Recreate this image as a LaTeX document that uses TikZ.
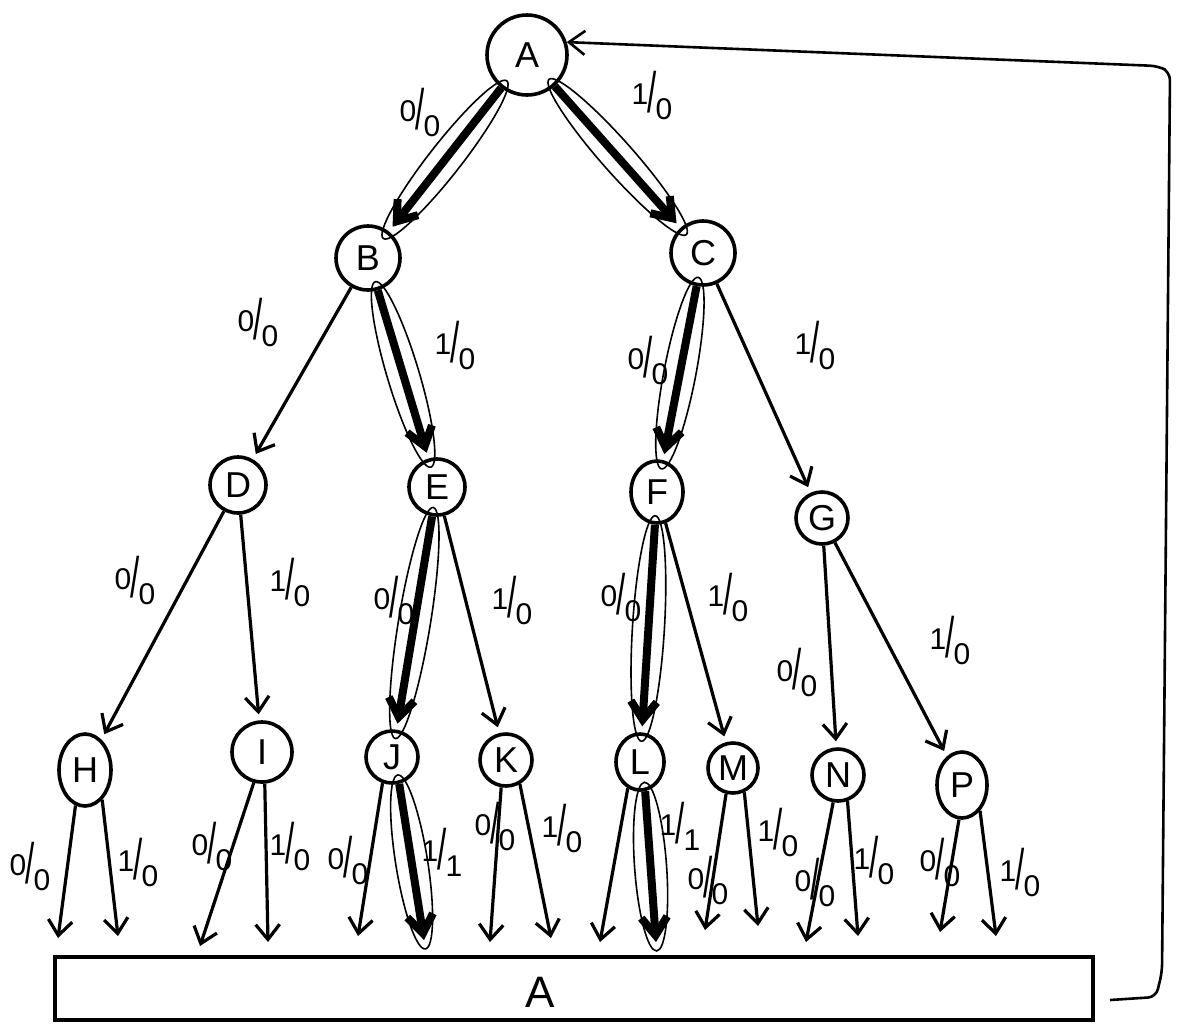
\documentclass[tikz,border=0pt]{standalone}
\usepackage{graphicx}
\usepackage{fontspec}
\setmainfont{Liberation Sans}
\usetikzlibrary{arrows.meta,shapes.geometric,calc}
\newcommand\fr[2]{\raisebox{8pt}{#1}\kern-1pt\scalebox{1.1}[1.9]{/}\kern-1pt\raisebox{-7pt}{#2}}
\newcommand\hlbox[2]{\path let \p1=($(#2)-(#1)$), \n1={atan2(\y1,\x1)}, \n2={veclen(\x1,\y1)} in node[hl, minimum width=\n2+18pt, rotate=\n1] at ($(#1)!0.5!(#2)$) {};}
\begin{document}
\begin{tikzpicture}[x=1pt,y=-1pt,
  nd/.style={draw, circle, line width=3.6pt, inner sep=0pt, font=\fontsize{36}{36}\selectfont},
  ndel/.style={draw, ellipse, line width=3.6pt, inner sep=0pt, font=\fontsize{36}{36}\selectfont},
  edge/.style={line width=3.2pt, -{Straight Barb[length=15pt,width=24pt]}, shorten >=6pt},
  hot/.style={line width=8pt, -{Straight Barb[length=18pt,width=26pt]}, shorten >=6pt},
  hl/.style={draw, ellipse, line width=1.6pt, minimum height=32pt, inner sep=0pt},
  lab/.style={font=\fontsize{30}{30}\selectfont, inner sep=0pt}]
\useasboundingbox (0,0) rectangle (1185,1026);

% nodes
\node[nd, minimum size=80pt] (A) at (527,55) {A};
\node[nd, minimum size=64pt] (B) at (368,258) {B};
\node[nd, minimum size=64pt] (C) at (703,253) {C};
\node[nd, minimum size=56pt] (D) at (238,485) {D};
\node[nd, minimum size=56pt] (E) at (437,487) {E};
\node[ndel, minimum width=52pt, minimum height=62pt] (F) at (657,492) {F};
\node[nd, minimum size=52pt] (G) at (822,518) {G};
\node[ndel, minimum width=52pt, minimum height=72pt] (H) at (85,770) {H};
\node[nd, minimum size=60pt] (I) at (262,752) {I};
\node[nd, minimum size=52pt] (J) at (392,757) {J};
\node[nd, minimum size=52pt] (K) at (506,760) {K};
\node[ndel, minimum width=48pt, minimum height=56pt] (L) at (640,762) {L};
\node[nd, minimum size=50pt] (M) at (733,768) {M};
\node[nd, minimum size=52pt] (N) at (838,775) {N};
\node[ndel, minimum width=50pt, minimum height=66pt] (P) at (962,785) {P};

% bottom box
\node[draw, line width=4pt, minimum width=1038pt, minimum height=63pt, inner sep=0pt] (box) at (574,988) {};
\node[font=\fontsize{44}{44}\selectfont, inner sep=0pt] (boxA) at (540,992) {A};

% highlighted path outlines
\hlbox{A.232}{B.52}
\hlbox{A.312}{C.132}
\hlbox{B.287}{E.107}
\hlbox{C.259}{F.79}
\hlbox{E.260}{J.80}
\hlbox{F.266}{L.86}

% tree edges
\draw[hot] (A) -- (B);
\draw[hot] (A) -- (C);
\draw[edge] (B) -- (D);
\draw[hot] (B) -- (E);
\draw[hot] (C) -- (F);
\draw[edge] (C) -- (G);
\draw[edge] (D) -- (H);
\draw[edge] (D) -- (I);
\draw[hot] (E) -- (J);
\draw[edge] (E) -- (K);
\draw[hot] (F) -- (L);
\draw[edge] (F) -- (M);
\draw[edge] (G) -- (N);
\draw[edge] (G) -- (P);

% edge labels
\node[lab] (lAB) at (420,112) {\fr00};
\node[lab] (lAC) at (652,95) {\fr10};
\node[lab] (lBD) at (258,322) {\fr00};
\node[lab] (lBE) at (455,345) {\fr10};
\node[lab] (lCF) at (648,360) {\fr00};
\node[lab] (lCG) at (815,345) {\fr10};
\node[lab] (lDH) at (135,580) {\fr00};
\node[lab] (lDI) at (290,582) {\fr10};
\node[lab] (lEJ) at (394,600) {\fr00};
\node[lab] (lEK) at (512,600) {\fr10};
\node[lab] (lFL) at (621,597) {\fr00};
\node[lab] (lFM) at (728,597) {\fr10};
\node[lab] (lGN) at (797,672) {\fr00};
\node[lab] (lGP) at (950,640) {\fr10};

% bottom arrows
\coordinate (h1) at (58,938);  \coordinate (h2) at (118,936);
\coordinate (i1) at (200,946); \coordinate (i2) at (268,942);
\coordinate (j1) at (358,936); \coordinate (j2) at (424,940);
\coordinate (k1) at (490,942); \coordinate (k2) at (551,938);
\coordinate (l1) at (600,942); \coordinate (l2) at (656,942);
\coordinate (m1) at (705,930); \coordinate (m2) at (758,926);
\coordinate (n1) at (806,942); \coordinate (n2) at (858,936);
\coordinate (p1) at (940,932); \coordinate (p2) at (996,936);
\draw[edge, shorten >=0pt] (H.255) -- (h1);
\draw[edge, shorten >=0pt] (H.300) -- (h2);
\draw[edge, shorten >=0pt] (I.255) -- (i1);
\draw[edge, shorten >=0pt] (I.275) -- (i2);
\draw[edge, shorten >=0pt] (J.250) -- (j1);
\hlbox{J.285}{j2}
\draw[hot, shorten >=0pt] (J.285) -- (j2);
\draw[edge, shorten >=0pt] (K.260) -- (k1);
\draw[edge, shorten >=0pt] (K.300) -- (k2);
\draw[edge, shorten >=0pt] (L.245) -- (l1);
\hlbox{L.280}{l2}
\draw[hot, shorten >=0pt] (L.280) -- (l2);
\draw[edge, shorten >=0pt] (M.255) -- (m1);
\draw[edge, shorten >=0pt] (M.295) -- (m2);
\draw[edge, shorten >=0pt] (N.260) -- (n1);
\draw[edge, shorten >=0pt] (N.290) -- (n2);
\draw[edge, shorten >=0pt] (P.265) -- (p1);
\draw[edge, shorten >=0pt] (P.305) -- (p2);

% bottom labels
\node[lab] (bH1) at (30,866) {\fr00};
\node[lab] (bH2) at (138,862) {\fr10};
\node[lab] (bI1) at (212,846) {\fr00};
\node[lab] (bI2) at (290,846) {\fr10};
\node[lab] (bJ1) at (348,860) {\fr00};
\node[lab] (bJ2) at (442,852) {\fr11};
\node[lab] (bK1) at (495,826) {\fr00};
\node[lab] (bK2) at (562,828) {\fr10};
\node[lab] (bL2) at (680,826) {\fr11};
\node[lab] (bM1) at (708,880) {\fr00};
\node[lab] (bM2) at (778,832) {\fr10};
\node[lab] (bN1) at (815,882) {\fr00};
\node[lab] (bN2) at (874,860) {\fr10};
\node[lab] (bP1) at (940,862) {\fr00};
\node[lab] (bP2) at (1020,872) {\fr10};

% feedback line
\coordinate (fb0) at (1110,1000);
\draw[line width=2.6pt, rounded corners=8pt, -{Straight Barb[length=16pt,width=24pt]}]
  (fb0) -- (1156,997) -- (1162,972) -- (1170,72) -- (1158,66) -- (A.18);
\end{tikzpicture}
\end{document}
